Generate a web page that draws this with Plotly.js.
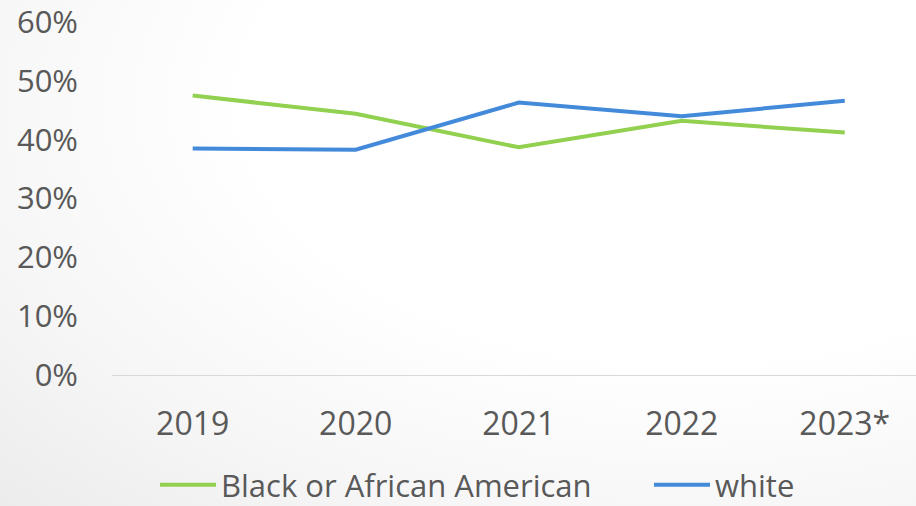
<!DOCTYPE html>
<html>
<head>
<meta charset="utf-8">
<script src="https://cdn.plot.ly/plotly-3.0.1.min.js"></script>
<style>
html,body{margin:0;padding:0;}
body{width:916px;height:506px;background:radial-gradient(ellipse at 75% 20%, #ffffff 0%, #ffffff 45%, #f6f6f6 75%, #ececec 100%);}
#chart{width:916px;height:506px;}
</style>
</head>
<body>
<div id="chart"></div>
<script>
const years = ["2019", "2020", "2021", "2022", "2023*"];
const black = [47.5, 44.4, 38.7, 43.2, 41.2];
const white = [38.5, 38.3, 46.3, 44.0, 46.6];
const yTicks = [0, 10, 20, 30, 40, 50, 60];

const FONT = "Open Sans, Liberation Sans, sans-serif";
const TXT = "#595959";

const traces = [
  {x: years, y: black, name: "Black or African American", type: "scatter", mode: "lines",
   line: {color: "#92D050", width: 4}, legend: "legend"},
  {x: years, y: white, name: "white", type: "scatter", mode: "lines",
   line: {color: "#438ADB", width: 4}, legend: "legend2"}
];

const legendBase = {
  orientation: "h", xref: "container", yref: "container",
  xanchor: "left", yanchor: "middle",
  itemwidth: 56, bgcolor: "rgba(0,0,0,0)",
  font: {family: FONT, size: 31, color: TXT}
};

const layout = {
  width: 916, height: 506,
  margin: {l: 112, r: 0, t: 22, b: 131},
  paper_bgcolor: "rgba(0,0,0,0)",
  plot_bgcolor: "rgba(0,0,0,0)",
  font: {family: FONT, size: 32, color: TXT},
  xaxis: {
    type: "category", range: [-0.495, 4.437],
    showgrid: false, zeroline: false,
    showline: true, linecolor: "#d9d9d9", linewidth: 1.3,
    ticks: "", ticklabelstandoff: 20,
    tickfont: {family: FONT, size: 32, color: TXT}
  },
  yaxis: {
    range: [0, 60.001], tickvals: yTicks, ticktext: yTicks.map(v => v + "%"),
    showgrid: false, zeroline: false, showline: false,
    ticks: "", ticklabelstandoff: 33, ticklabeloverflow: "allow",
    tickfont: {family: FONT, size: 31, color: TXT}
  },
  showlegend: true,
  legend: Object.assign({}, legendBase, {x: 155/916, y: 21/506}),
  legend2: Object.assign({}, legendBase, {x: 649/916, y: 21/506})
};

Plotly.newPlot("chart", traces, layout, {displayModeBar: false, staticPlot: true});
</script>
</body>
</html>
